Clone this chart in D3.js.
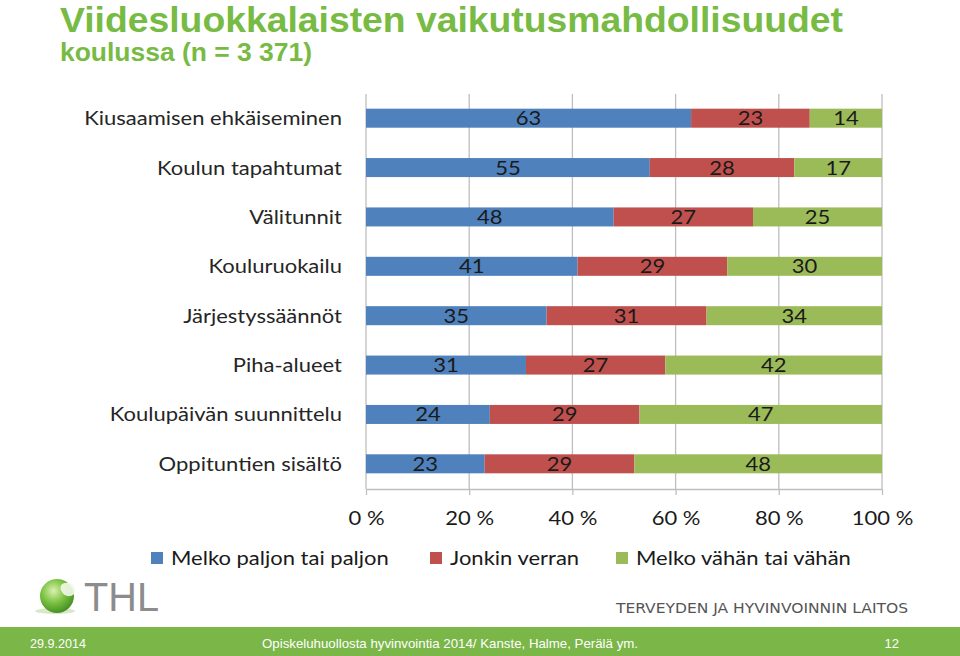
<!DOCTYPE html>
<html><head><meta charset="utf-8">
<script src="https://cdn.jsdelivr.net/npm/d3@7"></script>
<style>
html,body{margin:0;padding:0;background:#fff;}
svg{display:block;}
</style></head>
<body>
<svg id="c" width="960" height="656"></svg>
<script>
const categories = ["Kiusaamisen ehkäiseminen","Koulun tapahtumat","Välitunnit","Kouluruokailu","Järjestyssäännöt","Piha-alueet","Koulupäivän suunnittelu","Oppituntien sisältö"];
const seriesNames = ["Melko paljon tai paljon","Jonkin verran","Melko vähän tai vähän"];
const muchValues = [63,55,48,41,35,31,24,23];
const someValues = [23,28,27,29,31,27,29,29];
const littleValues = [14,17,25,30,34,42,47,48];
const tickValues = [0,20,40,60,80,100];
const tickLabels = ["0 %","20 %","40 %","60 %","80 %","100 %"];
const colors = ["#4f81bd","#c0504d","#9bbb59"];

const svg = d3.select("#c");
const font = "Lato, 'Open Sans', sans-serif";
const SX = 1.1; // horizontal stretch of the slide

// title
svg.append("text").attr("x",60).attr("y",32).attr("font-family","'Liberation Sans', Arial, sans-serif")
  .attr("font-weight","bold").attr("font-size",35).attr("fill","#77bb44")
  .attr("textLength",783).attr("lengthAdjust","spacingAndGlyphs")
  .text("Viidesluokkalaisten vaikutusmahdollisuudet");
svg.append("text").attr("x",60).attr("y",61).attr("font-family","'Liberation Sans', Arial, sans-serif")
  .attr("font-weight","bold").attr("font-size",25).attr("fill","#77bb44")
  .attr("textLength",252).attr("lengthAdjust","spacingAndGlyphs")
  .text("koulussa (n = 3 371)");

const x = d3.scaleLinear().domain([0,100]).range([366,882]);
const y = d3.scaleBand().domain(categories).range([93.5,488.5]).paddingInner(0.615).paddingOuter(0.3075);

const stackData = categories.map((c,i)=>({cat:c, s0:muchValues[i], s1:someValues[i], s2:littleValues[i]}));
const stack = d3.stack().keys(["s0","s1","s2"])(stackData);

// gridlines
svg.append("g").selectAll("line").data(tickValues).join("line")
  .attr("x1",d=>x(d)).attr("x2",d=>x(d)).attr("y1",94).attr("y2",489)
  .attr("stroke","#bfbfbf").attr("stroke-width",1.3);

// axis
const axis = svg.append("g").attr("transform","translate(0,489)")
  .call(d3.axisBottom(x).tickValues(tickValues).tickFormat((d,i)=>tickLabels[i]).tickSizeInner(6).tickSizeOuter(0).tickPadding(16));
axis.select(".domain").attr("stroke","#bfbfbf").attr("stroke-width",1.3);
axis.selectAll(".tick line").attr("stroke","#bfbfbf").attr("stroke-width",1.3);
axis.selectAll(".tick text").attr("font-family",font).attr("font-size",20).attr("fill","#1a1a1a")
  .attr("transform",`scale(${SX},1)`);

// bars
const g = svg.append("g");
stack.forEach((layer,k)=>{
  g.append("g").selectAll("rect").data(layer).join("rect")
    .attr("x",d=>x(d[0])).attr("width",d=>x(d[1])-x(d[0]))
    .attr("y",d=>y(d.data.cat)).attr("height",y.bandwidth())
    .attr("fill",colors[k]);
  g.append("g").selectAll("text").data(layer).join("text")
    .attr("transform",d=>`translate(${(x(d[0])+x(d[1]))/2},${y(d.data.cat)+y.bandwidth()/2+7}) scale(${SX},1)`)
    .attr("text-anchor","middle").attr("font-family",font).attr("font-size",20).attr("fill","#1a1a1a")
    .text(d=>d[1]-d[0]);
});

// category labels
svg.append("g").selectAll("text").data(categories).join("text")
  .attr("transform",d=>`translate(342,${y(d)+y.bandwidth()/2+7}) scale(${SX},1)`)
  .attr("text-anchor","end").attr("font-family",font).attr("font-size",20).attr("fill","#262626")
  .text(d=>d);

// legend
const legX = [151,430,616];
const leg = svg.append("g").selectAll("g").data(seriesNames).join("g")
  .attr("transform",(d,i)=>`translate(${legX[i]},552)`);
leg.append("rect").attr("width",12).attr("height",12).attr("fill",(d,i)=>colors[i]);
leg.append("text").attr("transform",`translate(20,13) scale(${SX},1)`).attr("font-family",font).attr("font-size",20).attr("fill","#1a1a1a").text(d=>d);

// THL logo
const defs = svg.append("defs");
const rg = defs.append("radialGradient").attr("id","sph").attr("cx","0.4").attr("cy","0.35").attr("r","0.7");
rg.append("stop").attr("offset","0").attr("stop-color","#d9f2b0");
rg.append("stop").attr("offset","0.5").attr("stop-color","#7cc242");
rg.append("stop").attr("offset","1").attr("stop-color","#3e8a1e");
svg.append("ellipse").attr("cx",55).attr("cy",611).attr("rx",20).attr("ry",3).attr("fill","#d8e8c8");
svg.append("circle").attr("cx",57).attr("cy",596).attr("r",17).attr("fill","url(#sph)");
svg.append("path").attr("d","M62,584 C70,580 78,586 74,594 C70,598 64,596 62,592 C60,589 60,586 62,584 Z").attr("fill","#f2f8ea").attr("opacity",0.9);
svg.append("text").attr("x",84).attr("y",611).attr("font-family","'Liberation Sans', Arial, sans-serif")
  .attr("font-size",40).attr("fill","#8c8c8c").attr("textLength",75).attr("lengthAdjust","spacingAndGlyphs").text("THL");
svg.append("text").attr("x",616).attr("y",613).attr("font-family","'DejaVu Sans Condensed', 'Liberation Sans Narrow', sans-serif")
  .attr("font-size",14).attr("fill","#555").attr("textLength",292).attr("lengthAdjust","spacingAndGlyphs")
  .text("TERVEYDEN JA HYVINVOINNIN LAITOS");

// footer
svg.append("rect").attr("x",0).attr("y",627).attr("width",960).attr("height",29).attr("fill","#7ab648");
const ff = "'Liberation Sans Narrow', 'Liberation Sans', Arial, sans-serif";
svg.append("text").attr("x",30).attr("y",648).attr("font-family",ff).attr("font-size",13).attr("fill","#fff")
  .attr("textLength",56).attr("lengthAdjust","spacingAndGlyphs").text("29.9.2014");
svg.append("text").attr("x",262).attr("y",648).attr("font-family",ff).attr("font-size",13).attr("fill","#fff")
  .attr("textLength",376).attr("lengthAdjust","spacingAndGlyphs").text("Opiskeluhuollosta hyvinvointia 2014/ Kanste, Halme, Perälä ym.");
svg.append("text").attr("x",899).attr("y",648).attr("text-anchor","end").attr("font-family",ff).attr("font-size",13).attr("fill","#fff").text("12");
</script>
</body></html>
